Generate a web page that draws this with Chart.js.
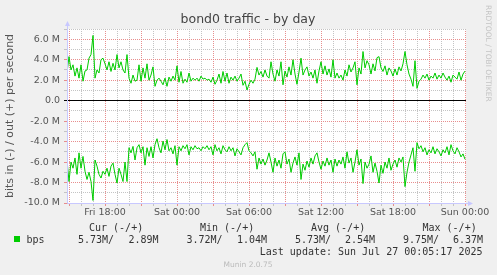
<!DOCTYPE html>
<html>
<head>
<meta charset="utf-8">
<script src="https://cdn.jsdelivr.net/npm/chart.js@4.4.1/dist/chart.umd.min.js"></script>
<style>
html, body { margin: 0; padding: 0; background: #f0f0f0; }
canvas { display: block; }
</style>
</head>
<body>
<canvas id="traffic" width="497" height="275"></canvas>
<script>
// one sample every 10 minutes, x in hours relative to Sat 00:00
var startHour = -9.1667;
var stepHour = 1 / 6;

// bits per second, in M
var outBits = [
    2.7, 4.3, 3.0, 3.5, 2.4, 3.2, 2.2, 3.5, 1.9, 2.9,
    3.0, 4.15, 4.5, 6.37, 2.2, 3.0, 2.7, 4.0, 4.15, 3.6,
    3.0, 3.8, 2.85, 3.65, 3.0, 4.5, 3.2, 3.8, 3.0, 2.7,
    4.5, 2.2, 1.7, 2.5, 1.9, 2.0, 3.5, 1.9, 3.2, 2.2,
    3.6, 2.0, 2.5, 3.3, 1.4, 2.0, 2.2, 1.9, 1.55, 2.2,
    1.4, 2.3, 1.9, 2.4, 2.0, 3.4, 1.8, 2.85, 1.7, 2.1,
    1.8, 2.7, 1.9, 2.2, 2.0, 2.2, 1.9, 2.4, 2.1, 2.2,
    2.0, 2.1, 1.8, 2.3, 1.6, 2.0, 2.6, 1.7, 2.85, 1.9,
    2.7, 1.7, 2.3, 2.0, 2.4, 1.9, 2.2, 2.6, 1.5, 1.9,
    1.04, 1.6, 2.0, 1.7, 2.1, 3.25, 2.5, 2.85, 2.3, 3.0,
    2.4, 2.2, 3.8, 2.6, 1.9, 3.0, 2.4, 3.8, 1.55, 2.9,
    2.3, 3.3, 2.5, 4.0, 2.6, 1.6, 2.8, 4.15, 2.5, 3.0,
    3.3, 2.4, 2.8, 2.2, 3.0, 1.7, 2.9, 3.8, 2.6, 3.4,
    2.5, 3.1, 2.3, 4.0, 2.2, 2.7, 2.2, 2.5, 2.0, 3.0,
    2.4, 3.5, 2.8, 3.2, 3.8, 1.55, 3.2, 2.6, 4.8, 3.2,
    3.9, 3.5, 2.6, 3.6, 2.9, 4.2, 4.3, 3.2, 2.85, 3.4,
    2.5, 3.2, 2.9, 2.4, 3.1, 2.5, 3.3, 2.9, 3.6, 4.8,
    3.5, 2.6, 2.1, 1.4, 3.9, 1.2, 1.9, 2.1, 2.5, 2.2,
    2.6, 2.0, 2.4, 2.2, 2.7, 2.1, 2.5, 2.2, 2.7, 2.3,
    2.0, 2.4, 1.8, 2.5, 2.3, 2.1, 2.8, 2.0, 2.6, 2.89
];
var inBits = [
    5.8, 7.9, 6.0, 6.6, 5.6, 7.2, 5.1, 6.6, 5.45, 6.9,
    7.7, 7.0, 7.9, 9.75, 5.8, 6.4, 7.2, 7.56, 6.9, 7.2,
    6.6, 7.4, 6.4, 6.1, 7.2, 8.05, 6.6, 7.2, 7.9, 6.0,
    7.9, 4.6, 5.1, 4.47, 5.8, 4.6, 4.3, 5.1, 4.5, 6.3,
    4.6, 5.45, 4.5, 5.6, 4.3, 3.72, 4.6, 5.1, 3.95, 4.8,
    3.8, 4.9, 4.6, 5.2, 4.4, 6.3, 4.5, 4.9, 4.4, 4.7,
    4.3, 5.3, 4.5, 4.8, 4.4, 4.7, 4.6, 4.9, 4.5, 4.7,
    4.4, 4.8, 4.5, 5.3, 4.3, 4.9, 4.6, 5.2, 4.4, 4.8,
    5.0, 4.5, 4.9, 4.6, 5.4, 4.7, 5.0, 5.3, 4.6, 4.3,
    4.1, 4.9, 5.1, 5.4, 5.0, 6.7, 5.6, 6.2, 5.7, 6.3,
    5.8, 5.1, 6.0, 7.0, 5.6, 6.4, 5.8, 6.6, 5.2, 5.0,
    6.2, 5.7, 7.0, 6.1, 5.5, 6.3, 5.1, 7.7, 6.2, 6.8,
    5.9, 6.5, 5.6, 6.2, 5.4, 5.1, 6.0, 6.7, 5.9, 6.4,
    5.6, 6.3, 5.8, 7.0, 5.7, 6.4, 5.8, 6.2, 5.5, 6.6,
    5.0, 6.1, 5.6, 7.0, 6.0, 4.8, 6.3, 5.7, 8.1, 6.0,
    6.6, 6.2, 5.4, 7.0, 6.1, 6.9, 8.05, 6.3, 7.1, 6.0,
    6.6, 5.6, 6.8, 6.2, 5.8, 6.5, 5.6, 6.0, 5.5, 8.4,
    7.0, 6.0, 5.3, 4.6, 6.9, 4.1, 4.7, 4.4, 5.0, 4.6,
    5.3, 4.8, 5.1, 4.5, 5.2, 4.7, 5.0, 5.4, 4.8, 5.1,
    4.5, 5.3, 4.3, 4.9, 5.2, 4.6, 5.0, 5.5, 5.2, 5.73
];

var xTickHours = [-6, 0, 6, 12, 18, 24];
var xTickLabels = ['Fri 18:00', 'Sat 00:00', 'Sat 06:00', 'Sat 12:00', 'Sat 18:00', 'Sun 00:00'];
var yTickValues = [-10, -8, -6, -4, -2, 0, 2, 4, 6];
var yTickLabels = ['-10.0 M', '-8.0 M', '-6.0 M', '-4.0 M', '-2.0 M', '0.0', '2.0 M', '4.0 M', '6.0 M'];

var legendHeads = ['Cur (-/+)', 'Min (-/+)', 'Avg (-/+)', 'Max (-/+)'];
var legendIn = ['5.73M/', '3.72M/', '5.73M/', '9.75M/'];
var legendOut = ['2.89M', '1.04M', '2.54M', '6.37M'];
var lastUpdate = 'Last update: Sun Jul 27 00:05:17 2025';

var majorGrid = 'rgba(230,130,130,0.9)';
var minorGrid = 'rgba(190,190,190,0.9)';
var axisBlue = '#c8c8ff';

function toPoints(vals, sign) {
    return vals.map(function (v, i) {
        return { x: startHour + i * stepHour, y: sign * v };
    });
}

var muninPlugin = {
    id: 'munin',
    beforeDraw: function (chart) {
        var c = chart.ctx, a = chart.chartArea;
        c.save();
        c.fillStyle = '#f0f0f0';
        c.fillRect(0, 0, chart.width, chart.height);
        c.fillStyle = '#ffffff';
        c.fillRect(a.left, a.top, a.right - a.left, a.bottom - a.top);
        c.restore();
    },
    afterDraw: function (chart) {
        var c = chart.ctx, a = chart.chartArea;
        c.save();
        // axes with arrows
        c.strokeStyle = axisBlue;
        c.fillStyle = axisBlue;
        c.lineWidth = 1;
        c.beginPath();
        c.moveTo(a.left + 0.5, a.bottom + 0.5);
        c.lineTo(a.right + 2, a.bottom + 0.5);
        c.moveTo(a.left + 0.5, a.bottom + 0.5);
        c.lineTo(a.left + 0.5, a.top - 3);
        c.stroke();
        c.beginPath();
        c.moveTo(a.right + 2, a.bottom - 2);
        c.lineTo(a.right + 2, a.bottom + 3);
        c.lineTo(a.right + 7, a.bottom + 0.5);
        c.closePath();
        c.fill();
        c.beginPath();
        c.moveTo(a.left - 2, a.top - 3);
        c.lineTo(a.left + 3, a.top - 3);
        c.lineTo(a.left + 0.5, a.top - 8);
        c.closePath();
        c.fill();

        // title
        c.fillStyle = '#444';
        c.font = '12.5px "DejaVu Sans"';
        c.textAlign = 'center';
        c.textBaseline = 'alphabetic';
        c.fillText('bond0 traffic - by day', 248, 22.5);

        // watermark
        c.save();
        c.translate(488, 5);
        c.rotate(Math.PI / 2);
        c.fillStyle = '#c4c4c4';
        c.font = '7.5px "DejaVu Sans"';
        c.textAlign = 'left';
        c.textBaseline = 'middle';
        c.fillText('RRDTOOL / TOBI OETIKER', 0, 0);
        c.restore();

        // legend table
        c.fillStyle = '#333';
        c.font = '10px "DejaVu Sans Mono"';
        c.textAlign = 'left';
        var headX = [89, 200, 311, 422.5];
        var inX = [78, 186.5, 295, 403];
        var outX = [128.5, 237, 345, 453];
        for (var k = 0; k < 4; k++) {
            c.fillText(legendHeads[k], headX[k], 231);
            c.fillText(legendIn[k], inX[k], 242.5);
            c.fillText(legendOut[k], outX[k], 242.5);
        }
        c.fillText('bps', 26.5, 242.5);
        c.textAlign = 'right';
        c.fillText(lastUpdate, 482.5, 254.5);
        c.fillStyle = '#00cc00';
        c.fillRect(14, 236, 6, 6);

        c.fillStyle = '#bbb';
        c.font = '7.5px "DejaVu Sans"';
        c.textAlign = 'center';
        c.fillText('Munin 2.0.75', 248, 267);
        c.restore();
    }
};

Chart.defaults.font.family = '"DejaVu Sans"';

var ctx = document.getElementById('traffic').getContext('2d');
var trafficChart = new Chart(ctx, {
    type: 'line',
    data: {
        datasets: [{
            label: 'in',
            data: toPoints(inBits, -1),
            borderColor: '#00cc00',
            borderWidth: 1,
            pointRadius: 0,
            tension: 0
        }, {
            label: 'bps',
            data: toPoints(outBits, 1),
            borderColor: '#00cc00',
            borderWidth: 1,
            pointRadius: 0,
            tension: 0
        }]
    },
    options: {
        responsive: false,
        animation: false,
        layout: { padding: { top: 29, right: 31, bottom: 0, left: 0 } },
        plugins: {
            legend: { display: false },
            tooltip: { enabled: false }
        },
        scales: {
            x: {
                type: 'linear',
                min: startHour,
                max: 24.0833,
                afterBuildTicks: function (s) {
                    var t = [];
                    for (var h = -9; h <= 24; h++) t.push({ value: h });
                    s.ticks = t;
                },
                afterFit: function (s) { s.height = 72; },
                ticks: {
                    autoSkip: false,
                    maxRotation: 0,
                    padding: 1,
                    color: '#555',
                    font: { size: 9.5 },
                    callback: function (v) {
                        var k = xTickHours.indexOf(v);
                        return k < 0 ? '' : xTickLabels[k];
                    }
                },
                grid: {
                    color: function (c) { return c.tick.value % 3 === 0 ? majorGrid : minorGrid; },
                    tickColor: function (c) { return c.tick.value % 3 === 0 ? majorGrid : minorGrid; },
                    tickLength: 3
                },
                border: { display: false, dash: [1, 1] }
            },
            y: {
                min: -10,
                max: 7,
                afterBuildTicks: function (s) {
                    var t = [];
                    for (var v = -10; v <= 7; v++) t.push({ value: v });
                    s.ticks = t;
                },
                afterFit: function (s) { s.width = 67; },
                ticks: {
                    autoSkip: false,
                    padding: 4,
                    color: '#555',
                    font: { size: 9.5 },
                    callback: function (v) {
                        var k = yTickValues.indexOf(v);
                        return k < 0 ? '' : yTickLabels[k];
                    }
                },
                grid: {
                    color: function (c) {
                        var v = c.tick.value;
                        return v === 0 ? '#000' : (v % 2 === 0 ? majorGrid : minorGrid);
                    },
                    tickColor: function (c) {
                        var v = c.tick.value;
                        return v === 0 ? '#000' : (v % 2 === 0 ? majorGrid : minorGrid);
                    },
                    tickLength: 3
                },
                border: {
                    display: false,
                    dash: function (c) { return c.tick && c.tick.value === 0 ? [] : [1, 1]; }
                },
                title: {
                    display: true,
                    text: 'bits in (-) / out (+) per second',
                    color: '#555',
                    font: { size: 11 },
                    padding: { top: 4, bottom: 0 }
                }
            }
        }
    },
    plugins: [muninPlugin]
});
</script>
</body>
</html>
